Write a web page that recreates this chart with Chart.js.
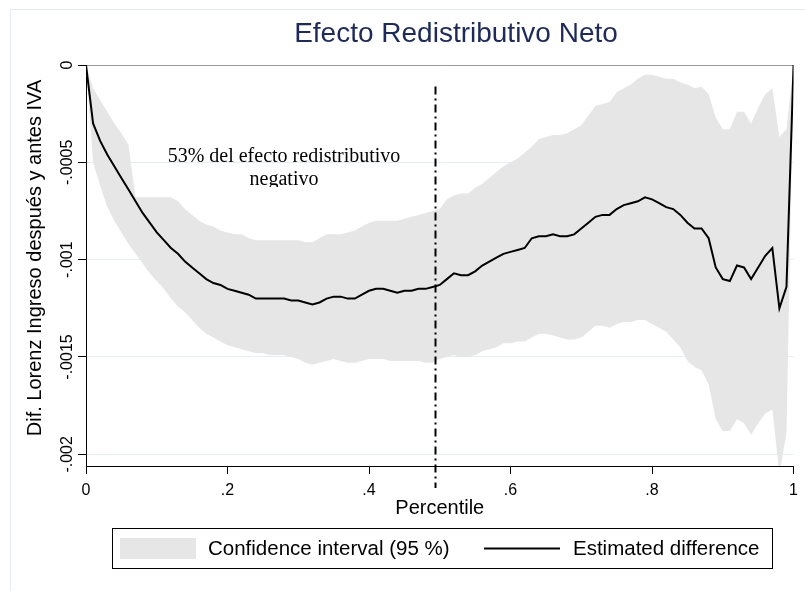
<!DOCTYPE html>
<html>
<head>
<meta charset="utf-8">
<script src="https://cdn.jsdelivr.net/npm/chart.js@4.4.1/dist/chart.umd.min.js"></script>
<style>
  html, body { margin: 0; padding: 0; background: #fff; }
  canvas { display: block; }
</style>
</head>
<body>
<canvas id="chart" width="805" height="591"></canvas>
<script>
// Efecto Redistributivo Neto - Lorenz difference by percentile

const percentiles = [
    0.00, 0.01, 0.02, 0.03, 0.04, 0.05, 0.06, 0.07, 0.08, 0.09,
    0.10, 0.11, 0.12, 0.13, 0.14, 0.15, 0.16, 0.17, 0.18, 0.19,
    0.20, 0.21, 0.22, 0.23, 0.24, 0.25, 0.26, 0.27, 0.28, 0.29,
    0.30, 0.31, 0.32, 0.33, 0.34, 0.35, 0.36, 0.37, 0.38, 0.39,
    0.40, 0.41, 0.42, 0.43, 0.44, 0.45, 0.46, 0.47, 0.48, 0.49,
    0.50, 0.51, 0.52, 0.53, 0.54, 0.55, 0.56, 0.57, 0.58, 0.59,
    0.60, 0.61, 0.62, 0.63, 0.64, 0.65, 0.66, 0.67, 0.68, 0.69,
    0.70, 0.71, 0.72, 0.73, 0.74, 0.75, 0.76, 0.77, 0.78, 0.79,
    0.80, 0.81, 0.82, 0.83, 0.84, 0.85, 0.86, 0.87, 0.88, 0.89,
    0.90, 0.91, 0.92, 0.93, 0.94, 0.95, 0.96, 0.97, 0.98, 0.99,
    1.00
];

// estimated difference (black line)
const estimated = [
    0, -0.00030, -0.00039, -0.00046, -0.00052, -0.00058, -0.00064, -0.00070, -0.00076, -0.00081,
    -0.00086, -0.00090, -0.00094, -0.00097, -0.00101, -0.00104, -0.00107, -0.00110, -0.00112, -0.00113,
    -0.00115, -0.00116, -0.00117, -0.00118, -0.00120, -0.00120, -0.00120, -0.00120, -0.00120, -0.00121,
    -0.00121, -0.00122, -0.00123, -0.00122, -0.00120, -0.00119, -0.00119, -0.00120, -0.00120, -0.00118,
    -0.00116, -0.00115, -0.00115, -0.00116, -0.00117, -0.00116, -0.00116, -0.00115, -0.00115, -0.00114,
    -0.00113, -0.00110, -0.00107, -0.00108, -0.00108, -0.00106, -0.00103, -0.00101, -0.00099, -0.00097,
    -0.00096, -0.00095, -0.00094, -0.00089, -0.00088, -0.00088, -0.00087, -0.00088, -0.00088, -0.00087,
    -0.00084, -0.00081, -0.00078, -0.00077, -0.00077, -0.00074, -0.00072, -0.00071, -0.00070, -0.00068,
    -0.00069, -0.00071, -0.00073, -0.00074, -0.00077, -0.00081, -0.00084, -0.00084, -0.00089, -0.00104,
    -0.00110, -0.00111, -0.00103, -0.00104, -0.00110, -0.00104, -0.00098, -0.00094, -0.00125, -0.00114,
    0
];

// confidence interval (95 %)
const upperCI = [
    0, -0.00012, -0.00018, -0.00024, -0.00030, -0.00035, -0.00041, -0.00068, -0.00068, -0.00068,
    -0.00068, -0.00068, -0.00068, -0.00070, -0.00074, -0.00077, -0.00080, -0.00082, -0.00083, -0.00085,
    -0.00086, -0.00087, -0.00087, -0.00089, -0.00090, -0.00090, -0.00090, -0.00090, -0.00090, -0.00090,
    -0.00090, -0.00091, -0.00091, -0.00089, -0.00087, -0.00087, -0.00087, -0.00086, -0.00085, -0.00083,
    -0.00081, -0.00080, -0.00080, -0.00080, -0.00080, -0.00079, -0.00078, -0.00077, -0.00076, -0.00075,
    -0.00074, -0.00069, -0.00067, -0.00066, -0.00066, -0.00063, -0.00061, -0.00058, -0.00055, -0.00052,
    -0.00050, -0.00048, -0.00045, -0.00042, -0.00038, -0.00037, -0.00036, -0.00036, -0.00035, -0.00033,
    -0.00031, -0.00026, -0.00021, -0.00020, -0.00019, -0.00014, -0.00012, -0.00010, -0.00007, -0.00005,
    -0.00005, -0.00006, -0.00007, -0.00007, -0.00009, -0.00010, -0.00012, -0.00011, -0.00015, -0.00027,
    -0.00033, -0.00033, -0.00024, -0.00024, -0.00030, -0.00022, -0.00015, -0.00012, -0.00037, -0.00033,
    0
];
const lowerCI = [
    0, -0.00050, -0.00062, -0.00073, -0.00080, -0.00086, -0.00092, -0.00097, -0.00102, -0.00107,
    -0.00111, -0.00115, -0.00120, -0.00124, -0.00127, -0.00131, -0.00135, -0.00138, -0.00140, -0.00142,
    -0.00144, -0.00145, -0.00146, -0.00147, -0.00148, -0.00148, -0.00149, -0.00149, -0.00149, -0.00150,
    -0.00151, -0.00153, -0.00154, -0.00153, -0.00152, -0.00151, -0.00152, -0.00153, -0.00153, -0.00152,
    -0.00151, -0.00151, -0.00151, -0.00152, -0.00152, -0.00152, -0.00152, -0.00152, -0.00153, -0.00153,
    -0.00151, -0.00150, -0.00149, -0.00150, -0.00150, -0.00149, -0.00147, -0.00146, -0.00145, -0.00143,
    -0.00143, -0.00142, -0.00142, -0.00140, -0.00138, -0.00138, -0.00139, -0.00140, -0.00141, -0.00141,
    -0.00140, -0.00137, -0.00134, -0.00134, -0.00135, -0.00133, -0.00132, -0.00132, -0.00131, -0.00131,
    -0.00133, -0.00135, -0.00137, -0.00141, -0.00145, -0.00152, -0.00155, -0.00157, -0.00164, -0.00182,
    -0.00188, -0.00188, -0.00182, -0.00184, -0.00190, -0.00184, -0.00179, -0.00177, -0.00210, -0.00189,
    0
];

const xTicks = [0, 0.2, 0.4, 0.6, 0.8, 1];
const xTickLabels = ['0', '.2', '.4', '.6', '.8', '1'];
const yTicks = [0, -0.0005, -0.001, -0.0015, -0.002];
const yTickLabels = ['0', '-.0005', '-.001', '-.0015', '-.002'];

const cutoff = 0.493;        // dash-dot marker (53% of negative effect)
const cutoffTop = -0.00011;

const titleText = 'Efecto Redistributivo Neto';
const xTitle = 'Percentile';
const yTitle = 'Dif. Lorenz Ingreso después y antes IVA';
const noteLines = ['53% del efecto redistributivo', 'negativo'];
const ciLabel = 'Confidence interval (95 %)';
const estLabel = 'Estimated difference';

const SANS = '"Liberation Sans", Arial, Helvetica, sans-serif';
const SERIF = '"Liberation Serif", "Times New Roman", serif';
const BAND = '#e6e6e6';

const toPoints = arr => arr.map((v, i) => ({ x: percentiles[i], y: v }));

// draws the texts, marker, legend and frame that Stata puts around the plot
const decorations = {
    id: 'decorations',
    afterDatasetsDraw(chart) {
        const ctx = chart.ctx;
        const xs = chart.scales.x;
        const ys = chart.scales.y;
        const area = chart.chartArea;

        // dash-dot cutoff line
        const cx = Math.round(xs.getPixelForValue(cutoff)) + 0.5;
        ctx.save();
        ctx.strokeStyle = '#000';
        ctx.lineWidth = 2;
        ctx.setLineDash([8, 4, 2, 4]);
        ctx.beginPath();
        ctx.moveTo(cx, ys.getPixelForValue(cutoffTop));
        ctx.lineTo(cx, area.bottom + 22);
        ctx.stroke();
        ctx.restore();

        // note text, second line clipped like in the original
        ctx.save();
        ctx.beginPath();
        ctx.rect(100, 130, 400, 57);
        ctx.clip();
        ctx.fillStyle = '#000';
        ctx.font = '20px ' + SERIF;
        ctx.textAlign = 'center';
        ctx.textBaseline = 'alphabetic';
        ctx.fillText(noteLines[0], 284, 162);
        ctx.fillText(noteLines[1], 284, 185);
        ctx.restore();
    },
    afterDraw(chart) {
        const ctx = chart.ctx;
        const ys = chart.scales.y;
        const area = chart.chartArea;

        // outer frame
        ctx.save();
        ctx.strokeStyle = '#e3ebee';
        ctx.lineWidth = 1;
        ctx.beginPath();
        ctx.moveTo(10.5, 600);
        ctx.lineTo(10.5, 9.5);
        ctx.lineTo(810, 9.5);
        ctx.stroke();

        // title
        ctx.fillStyle = '#1e2b58';
        ctx.font = '28px ' + SANS;
        ctx.textAlign = 'center';
        ctx.textBaseline = 'middle';
        ctx.fillText(titleText, 456, 34);

        // y tick labels, rotated
        ctx.fillStyle = '#000';
        ctx.font = '16px ' + SANS;
        yTicks.forEach((v, i) => {
            ctx.save();
            ctx.translate(68, ys.getPixelForValue(v));
            ctx.rotate(-Math.PI / 2);
            ctx.fillText(yTickLabels[i], 0, 0);
            ctx.restore();
        });

        // y title
        ctx.font = '20px ' + SANS;
        ctx.save();
        ctx.translate(35, 258);
        ctx.rotate(-Math.PI / 2);
        ctx.fillText(yTitle, 0, 0);
        ctx.restore();

        // x title
        ctx.fillText(xTitle, (area.left + area.right) / 2, 508);

        // legend
        ctx.strokeStyle = '#000';
        ctx.strokeRect(112.5, 528.5, 660, 40);
        ctx.fillStyle = BAND;
        ctx.fillRect(120, 538, 76, 21);
        ctx.lineWidth = 2;
        ctx.beginPath();
        ctx.moveTo(484, 548.5);
        ctx.lineTo(560, 548.5);
        ctx.stroke();
        ctx.fillStyle = '#000';
        ctx.font = '20.5px ' + SANS;
        ctx.textAlign = 'left';
        ctx.fillText(ciLabel, 208, 549);
        ctx.fillText(estLabel, 573, 549);
        ctx.restore();
    }
};

const chart = new Chart(document.getElementById('chart'), {
    type: 'line',
    data: {
        datasets: [
            {
                label: estLabel,
                data: toPoints(estimated),
                borderColor: '#000',
                borderWidth: 2,
                pointRadius: 0,
                tension: 0,
                fill: false
            },
            {
                label: 'lower',
                data: toPoints(lowerCI),
                borderWidth: 0,
                borderColor: 'rgba(0,0,0,0)',
                pointRadius: 0,
                tension: 0,
                fill: false
            },
            {
                label: ciLabel,
                data: toPoints(upperCI),
                borderWidth: 0,
                borderColor: 'rgba(0,0,0,0)',
                backgroundColor: BAND,
                pointRadius: 0,
                tension: 0,
                fill: '-1'
            }
        ]
    },
    options: {
        responsive: false,
        animation: false,
        layout: { padding: { top: 65, right: 9, left: 0, bottom: 0 } },
        plugins: {
            legend: { display: false },
            tooltip: { enabled: false },
            filler: { propagate: false }
        },
        scales: {
            x: {
                type: 'linear',
                min: 0,
                max: 1,
                afterBuildTicks: s => { s.ticks = xTicks.map(v => ({ value: v })); },
                afterFit: s => { s.height = 125; },
                ticks: {
                    autoSkip: false,
                    maxRotation: 0,
                    padding: 7,
                    color: '#000',
                    font: { family: SANS, size: 16 },
                    callback: (v, i) => xTickLabels[i]
                },
                grid: { drawOnChartArea: false, tickLength: 8, tickColor: '#000' },
                border: { color: '#000', width: 1 }
            },
            y: {
                type: 'linear',
                min: -0.00206,
                max: 0,
                afterBuildTicks: s => { s.ticks = yTicks.map(v => ({ value: v })); },
                afterFit: s => { s.width = 86; },
                ticks: { display: false },
                grid: {
                    color: c => (c.tick && c.tick.value === 0 ? '#9a9a9a' : '#e6eef1'),
                    lineWidth: 1,
                    tickLength: 8,
                    tickColor: '#000'
                },
                border: { color: '#000', width: 1 }
            }
        }
    },
    plugins: [decorations]
});
</script>
</body>
</html>
